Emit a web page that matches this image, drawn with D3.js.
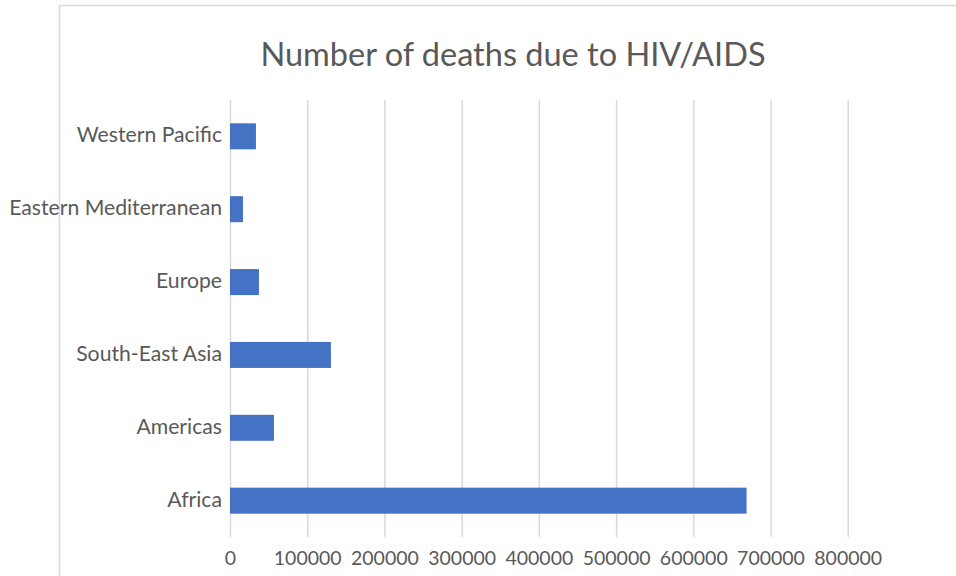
<!DOCTYPE html>
<html>
<head>
<meta charset="utf-8">
<script src="https://cdn.jsdelivr.net/npm/d3@7"></script>
<style>
  html, body { margin: 0; padding: 0; background: #fff; }
  svg { display: block; }
  text { font-family: Lato, "Open Sans", sans-serif; fill: #595959; }
</style>
</head>
<body>
<svg id="chart" width="956" height="576"></svg>
<script>
// Regions, listed top to bottom as they appear on the chart
const regions = ["Western Pacific", "Eastern Mediterranean", "Europe", "South-East Asia", "Americas", "Africa"];
const deaths = [33600, 16800, 37500, 130700, 56900, 669000];
const xTicks = [0, 100000, 200000, 300000, 400000, 500000, 600000, 700000, 800000];
const title = "Number of deaths due to HIV/AIDS";

const svg = d3.select("#chart");
const plot = { left: 230, right: 847.7, top: 100, bottom: 537 };

// Outer chart frame
svg.append("rect")
  .attr("x", 59.5).attr("y", 5.5)
  .attr("width", 920).attr("height", 600)
  .attr("fill", "#fff")
  .attr("stroke", "#d9d9d9").attr("stroke-width", 1.5);

const x = d3.scaleLinear().domain([0, 800000]).range([plot.left, plot.right]);
const y = d3.scaleBand().domain(regions).range([plot.top, plot.bottom]).paddingInner(0.643).paddingOuter(0.32);

// Vertical gridlines and value labels
const xAxis = d3.axisBottom(x).tickValues(xTicks).tickFormat(d3.format("d"))
  .tickSize(-(plot.bottom - plot.top)).tickPadding(10);
const gx = svg.append("g").attr("transform", `translate(0,${plot.bottom})`).call(xAxis);
gx.select(".domain").remove();
gx.selectAll(".tick line").attr("stroke", "#d9d9d9").attr("stroke-width", 1.5);
gx.selectAll(".tick text").attr("font-size", 19.5).attr("fill", "#595959")
  .style("font-family", "Lato, sans-serif").attr("dy", "0.9em");

// Bars
svg.append("g").selectAll("rect").data(regions).join("rect")
  .attr("x", x(0))
  .attr("y", d => y(d))
  .attr("width", (d, i) => x(deaths[i]) - x(0))
  .attr("height", y.bandwidth())
  .attr("fill", "#4472c4");

// Category axis
const yAxis = d3.axisLeft(y).tickSize(0).tickPadding(8);
const gy = svg.append("g").attr("transform", `translate(${plot.left},0)`).call(yAxis);
gy.select(".domain").remove();
gy.selectAll(".tick text").attr("font-size", 21.2).attr("fill", "#595959")
  .style("font-family", "Lato, sans-serif").attr("dy", "0.28em");

// Title
svg.append("text")
  .attr("x", 513).attr("y", 66)
  .attr("text-anchor", "middle")
  .attr("font-size", 32.5)
  .text(title);
</script>
</body>
</html>
